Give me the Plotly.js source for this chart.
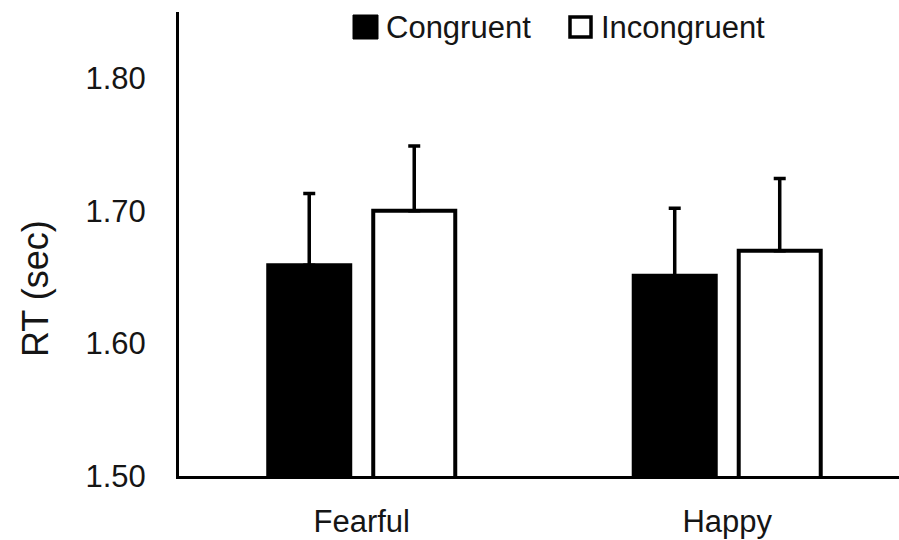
<!DOCTYPE html>
<html>
<head>
<meta charset="utf-8">
<script src="https://cdn.plot.ly/plotly-3.0.1.min.js"></script>
<style>html,body{margin:0;padding:0;background:#fff;}#chart{width:899px;height:540px;}</style>
</head>
<body>
<div id="chart"></div>
<script>
const categories = ["Fearful", "Happy"];
const seriesNames = ["Congruent", "Incongruent"];
const congruentRT = [1.659, 1.651];
const incongruentRT = [1.700, 1.670];
const congruentErr = [0.054, 0.051];
const incongruentErr = [0.049, 0.0545];
const yTicks = [1.50, 1.60, 1.70, 1.80];
const yTickLabels = ["1.50", "1.60", "1.70", "1.80"];

const font = "Liberation Sans, Arial, sans-serif";
const txt = "#151515";

// plot area in pixels (for placing legend pieces in paper coords)
const W = 899, H = 540, ML = 179, MR = 0, MT = 12, MB = 64;
const PW = W - ML - MR, PH = H - MT - MB;
const px = v => (v - ML) / PW;
const py = v => (H - MB - v) / PH;

const traces = [
  {
    type: "bar", name: seriesNames[0], x: categories, y: congruentRT, showlegend: false,
    marker: {color: "#000", line: {color: "#000", width: 4}},
    error_y: {type: "data", array: congruentErr, arrayminus: [0, 0], symmetric: false, color: "#000", thickness: 3.5, width: 6}
  },
  {
    type: "bar", name: seriesNames[1], x: categories, y: incongruentRT, showlegend: false,
    marker: {color: "#fff", line: {color: "#000", width: 4}},
    error_y: {type: "data", array: incongruentErr, arrayminus: [0, 0], symmetric: false, color: "#000", thickness: 3.5, width: 6}
  }
];

const layout = {
  width: W, height: H,
  margin: {l: ML, r: MR, t: MT, b: MB, pad: 0},
  paper_bgcolor: "#fff", plot_bgcolor: "#fff",
  font: {family: font, color: txt, size: 31},
  barmode: "group", bargap: 0.4254, bargroupgap: 0.219,
  showlegend: false,
  xaxis: {type: "category", range: [-0.5, 1.47], showline: true, linecolor: "#000", linewidth: 3,
          ticks: "", showgrid: false, zeroline: false, tickfont: {size: 31}, ticklabelstandoff: 16},
  yaxis: {range: [1.5, 1.85], showline: true, linecolor: "#000", linewidth: 3, ticks: "",
          tickvals: yTicks, ticktext: yTickLabels, showgrid: false, zeroline: false,
          tickfont: {size: 31}, ticklabelstandoff: 24},
  shapes: [
    {type: "rect", xref: "paper", yref: "paper", x0: px(353), x1: px(378), y0: py(39), y1: py(15),
     fillcolor: "#000", line: {color: "#000", width: 1}},
    {type: "rect", xref: "paper", yref: "paper", x0: px(570), x1: px(591), y0: py(37), y1: py(17),
     fillcolor: "#fff", line: {color: "#000", width: 3.5}}
  ],
  annotations: [
    {text: seriesNames[0], xref: "paper", yref: "paper", x: px(384), y: py(28), xanchor: "left", yanchor: "middle",
     showarrow: false, font: {size: 31, color: txt}},
    {text: seriesNames[1], xref: "paper", yref: "paper", x: px(599), y: py(28), xanchor: "left", yanchor: "middle",
     showarrow: false, font: {size: 31, color: txt}},
    {text: "RT (sec)", xref: "paper", yref: "paper", x: px(35), y: py(289), xanchor: "center", yanchor: "middle",
     textangle: -90, showarrow: false, font: {size: 36, color: txt}}
  ]
};

Plotly.newPlot("chart", traces, layout, {displayModeBar: false, staticPlot: true});
</script>
</body>
</html>
